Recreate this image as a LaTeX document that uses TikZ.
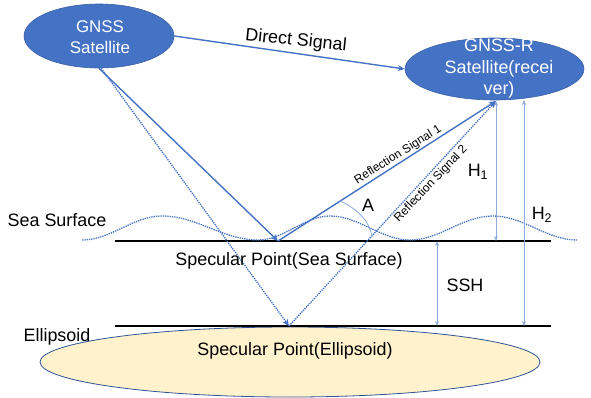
\documentclass[tikz,border=0pt]{standalone}
\usepackage{fontspec}
\setmainfont{Liberation Sans}
\usetikzlibrary{shapes.geometric,arrows.meta}
\definecolor{sblue}{HTML}{4472C4}
\definecolor{lblue}{HTML}{8FAADC}
\definecolor{eborder}{HTML}{2F5597}
\definecolor{efill}{HTML}{FFF2CC}
\begin{document}
\begin{tikzpicture}[x=1bp,y=-1bp,
 satshape/.style={ellipse, fill=sblue, draw=sblue!85!black, line width=0.6bp, inner sep=0pt},
 sattext/.style={text=white, align=center, inner sep=0pt},
 sig/.style={sblue, line width=1.4bp, -{Stealth[length=7bp,width=6bp]}},
 dsig/.style={sblue, line width=1.3bp, densely dotted, -{Stealth[length=7bp,width=6bp]}},
 meas/.style={lblue, line width=1bp, {Stealth[length=5bp,width=4bp]}-{Stealth[length=5bp,width=4bp]}},
 lab/.style={font=\fontsize{18}{21}\selectfont, inner sep=0pt},
 smalllab/.style={font=\fontsize{12}{14}\selectfont, inner sep=0pt},
 surf/.style={black, line width=1.6bp}]
\useasboundingbox (0,0) rectangle (591,397);
\fill[white] (0,0) rectangle (591,397);

% ellipsoid body
\node[ellipse, fill=efill, draw=eborder, line width=0.8bp, minimum width=500bp, minimum height=70bp] (ell) at (290,362) {};
\node[lab] (elltxt) at (295,351) {Specular Point(Ellipsoid)};

% satellites
\node[satshape, minimum width=150bp, minimum height=64bp] (sat) at (99,36) {};
\node[sattext, font=\fontsize{17}{21}\selectfont] (sattxt) at (100,37.5) {GNSS\\Satellite};
\node[satshape, minimum width=179bp, minimum height=62bp] (rcv) at (494.5,69) {};
\node[sattext, font=\fontsize{18}{21.5}\selectfont] (rcvtxt) at (499,69) {GNSS-R\\Satellite(recei\\ver)};

% coordinates
\coordinate (sp1) at (278,241);
\coordinate (sp2) at (289,326);
\coordinate (rp) at (496,101);
\coordinate (sea1) at (115,241);
\coordinate (sea2) at (551,241);
\coordinate (el1) at (115,326);
\coordinate (el2) at (551,326);
\coordinate (h1b) at (496,241);
\coordinate (h2t) at (524,100);
\coordinate (h2b) at (524,326);
\coordinate (ssht) at (437,241);
\coordinate (sshb) at (437,326);
\coordinate (arc1) at (340,201);
\coordinate (arc2) at (372,237);

% surfaces
\draw[surf] (sea1) -- (sea2);
\draw[surf] (el1) -- (el2);
\draw[sblue, line width=1.3bp, densely dotted] (82,240) cos (122,228) sin (162,216) cos (210,228) sin (258,240) cos (294,228) sin (330,216) cos (370,228) sin (410,240) cos (451,228) sin (493,216) cos (535,228) sin (577,240);

% signals
\draw[sig] (sat.east) -- (rcv.west);
\draw[sig] (sat.south) -- (sp1);
\draw[sig] (sp1) -- (rp);
\draw[dsig] (sat.-86) -- (sp2);
\draw[dsig] (sp2) -- (rp);

% measures
\draw[meas] (rp) -- (h1b);
\draw[meas] (h2t) -- (h2b);
\draw[meas] (ssht) -- (sshb);
\draw[lblue, line width=0.8bp] (arc1) .. controls (358,209) and (370,222) .. (arc2);

% labels
\node[lab, rotate=-6] (dlab) at (296,41) {Direct Signal};
\node[smalllab, rotate=32] (r1lab) at (398,155) {Reflection Signal 1};
\node[smalllab, rotate=46.5] (r2lab) at (431,184) {Reflection Signal 2};
\node[lab] (alab) at (368,205) {A};
\node[lab] (h1lab) at (478,172) {H\textsubscript{1}};
\node[lab] (h2lab) at (542,215) {H\textsubscript{2}};
\node[lab] (sshlab) at (465,285) {SSH};
\node[lab] (sealab) at (57,220) {Sea Surface};
\node[lab] (ellab) at (57,337) {Ellipsoid};
\node[lab] (sstxt) at (289,261) {Specular Point(Sea Surface)};
\end{tikzpicture}
\end{document}
